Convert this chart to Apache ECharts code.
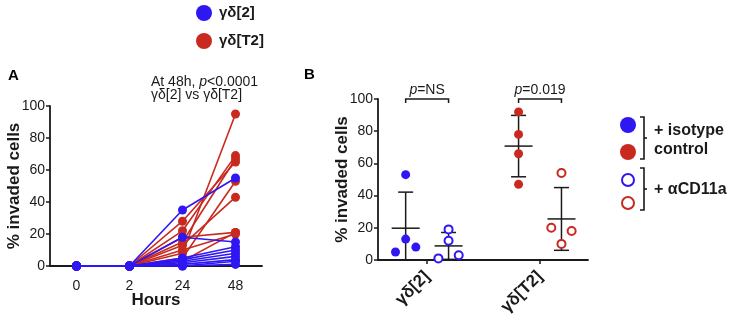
<!DOCTYPE html>
<html><head><meta charset="utf-8">
<script src="https://cdn.jsdelivr.net/npm/echarts@6/dist/echarts.min.js"></script>
<style>html,body{margin:0;background:#fff}#c{width:736px;height:321px}</style>
</head><body><div id="c"></div>
<script>
// ---------- Panel A data ----------
const hours = ['0', '2', '24', '48'];
const redT2Lines = [
  [0, 0, 8, 95], [0, 0, 28, 65], [0, 0, 22, 69], [0, 0, 15, 67], [0, 0, 5, 53],
  [0, 0, 13, 43], [0, 0, 18, 21], [0, 0, 10, 20], [0, 0, 3, 21]
];
const blue2Lines = [
  [0, 0, 35, 55], [0, 0, 18, 15], [0, 0, 5, 12], [0, 0, 4, 10], [0, 0, 3, 8],
  [0, 0, 2, 6], [0, 0, 1, 4], [0, 0, 0, 3], [0, 0, 0, 1]
];
// ---------- Panel B data ----------
const groupsB = ['γδ[2]', 'γδ[T2]'];
const g2Isotype = [5, 53, 13, 8];
const g2Cd11a = [1, 19, 12, 3];
const gT2Isotype = [92, 78, 66, 47];
const gT2Cd11a = [20, 54, 10, 18];
const jitterSpread = [-1, 0, 0, 1];
const jitterNone = [0, 0, 0, 0];
const yTicks = [0, 20, 40, 60, 80, 100];

const BLUE = '#2F17F4', RED = '#C92A20', INK = '#1a1a1a';
const FONT = 'Liberation Sans, Arial, sans-serif';

function meanSd(a) {
  const m = a.reduce((s, v) => s + v, 0) / a.length;
  const sd = Math.sqrt(a.reduce((s, v) => s + (v - m) * (v - m), 0) / (a.length - 1));
  return [m, m - sd, m + sd];
}
const groupCenter = [1, 3];
const sub = 0.38, jit = 0.18;
function pts(vals, jitter, center) {
  return vals.map((v, i) => [center + jitter[i] * jit, v]);
}
const sets = [
  { vals: g2Isotype, jitter: jitterSpread, c: groupCenter[0] - sub, color: BLUE, open: false },
  { vals: g2Cd11a, jitter: jitterSpread, c: groupCenter[0] + sub, color: BLUE, open: true },
  { vals: gT2Isotype, jitter: jitterNone, c: groupCenter[1] - sub, color: RED, open: false },
  { vals: gT2Cd11a, jitter: jitterSpread, c: groupCenter[1] + sub, color: RED, open: true }
];
const errData = sets.map(s => [s.c].concat(meanSd(s.vals)));
const pLabels = ['NS', '0.019'];
const bracketData = groupCenter.map((c, i) => [c - sub, c + sub, 100, i]);

const series = [];
redT2Lines.forEach(d => series.push({
  type: 'line', xAxisIndex: 0, yAxisIndex: 0, data: d, symbol: 'circle', symbolSize: 9,
  lineStyle: { color: RED, width: 1.6 }, itemStyle: { color: RED, opacity: 1 }, z: 2, silent: true
}));
blue2Lines.forEach(d => series.push({
  type: 'line', xAxisIndex: 0, yAxisIndex: 0, data: d, symbol: 'circle', symbolSize: 9,
  lineStyle: { color: BLUE, width: 1.6 }, itemStyle: { color: BLUE, opacity: 1 }, z: 3, silent: true
}));
series.push({
  type: 'custom', xAxisIndex: 1, yAxisIndex: 1, data: errData, z: 2, silent: true,
  renderItem(params, api) {
    const x = api.value(0), m = api.value(1), lo = Math.max(0, api.value(2)), hi = api.value(3);
    const pm = api.coord([x, m]), pl = api.coord([x, lo]), ph = api.coord([x, hi]);
    const st = { stroke: INK, lineWidth: 1.5 };
    return { type: 'group', children: [
      { type: 'line', shape: { x1: pm[0] - 14, y1: pm[1], x2: pm[0] + 14, y2: pm[1] }, style: st },
      { type: 'line', shape: { x1: pl[0], y1: pl[1], x2: ph[0], y2: ph[1] }, style: st },
      { type: 'line', shape: { x1: ph[0] - 7.5, y1: ph[1], x2: ph[0] + 7.5, y2: ph[1] }, style: st },
      { type: 'line', shape: { x1: pl[0] - 7.5, y1: pl[1], x2: pl[0] + 7.5, y2: pl[1] }, style: st }
    ] };
  }
});
sets.forEach(s => series.push({
  type: 'scatter', xAxisIndex: 1, yAxisIndex: 1, data: pts(s.vals, s.jitter, s.c),
  symbol: 'circle', symbolSize: s.open ? 8 : 9,
  itemStyle: s.open ? { color: '#fff', borderColor: s.color, borderWidth: 2, opacity: 1 } : { color: s.color, opacity: 1 },
  z: 3, silent: true
}));
series.push({
  type: 'custom', xAxisIndex: 1, yAxisIndex: 1, data: bracketData, z: 4, silent: true, clip: false,
  renderItem(params, api) {
    const a = api.coord([api.value(0), api.value(2)]), b = api.coord([api.value(1), api.value(2)]);
    const st = { stroke: INK, lineWidth: 1.5, fill: null };
    return { type: 'group', children: [
      { type: 'polyline', shape: { points: [[a[0], a[1] + 4], [a[0], a[1]], [b[0], b[1]], [b[0], b[1] + 4]] }, style: st },
      { type: 'text', style: { text: '{i|p}=' + pLabels[api.value(3)], x: (a[0] + b[0]) / 2, y: a[1] - 2,
        align: 'center', verticalAlign: 'bottom', fill: INK, font: '14px ' + FONT,
        rich: { i: { fontStyle: 'italic', fontSize: 14, fontFamily: FONT, fill: INK } } } }
    ] };
  }
});

const axisLineStyle = { lineStyle: { color: INK, width: 1.8 } };
const option = {
  animation: false,
  textStyle: { fontFamily: FONT },
  grid: [
    { left: 50, top: 106, width: 212, height: 160, outerBoundsMode: 'none', containLabel: false },
    { left: 378, top: 99, width: 210, height: 161, outerBoundsMode: 'none', containLabel: false }
  ],
  xAxis: [
    { gridIndex: 0, type: 'category', data: hours, boundaryGap: true,
      axisLine: axisLineStyle, axisTick: { show: false },
      axisLabel: { color: INK, fontSize: 14, margin: 13, fontFamily: FONT },
      name: 'Hours', nameLocation: 'middle', nameGap: 26, nameMoveOverlap: false,
      nameTextStyle: { color: INK, fontSize: 17, fontWeight: 'bold', fontFamily: FONT } },
    { gridIndex: 1, type: 'value', min: 0.13, max: 3.85, splitLine: { show: false },
      axisLine: axisLineStyle,
      axisTick: { show: true, customValues: groupCenter, length: 4, inside: false, lineStyle: { color: INK, width: 1.5 } },
      axisLabel: { customValues: groupCenter, formatter: v => groupsB[groupCenter.indexOf(v)] || '',
        rotate: 45, color: INK, fontSize: 17, fontWeight: 'bold', margin: 14, fontFamily: FONT } }
  ],
  yAxis: [
    { gridIndex: 0, type: 'value', min: 0, max: 100, interval: 20, splitLine: { show: false },
      axisLine: { show: true, lineStyle: { color: INK, width: 1.8 } },
      axisTick: { show: true, length: 4, lineStyle: { color: INK, width: 1.5 } },
      axisLabel: { color: INK, fontSize: 14, margin: 5, fontFamily: FONT },
      name: '% invaded cells', nameLocation: 'middle', nameGap: 27, nameMoveOverlap: false,
      nameTextStyle: { color: INK, fontSize: 17, fontWeight: 'bold', fontFamily: FONT } },
    { gridIndex: 1, type: 'value', min: 0, max: 100, interval: 20, splitLine: { show: false },
      axisLine: { show: true, lineStyle: { color: INK, width: 1.8 } },
      axisTick: { show: true, length: 4, lineStyle: { color: INK, width: 1.5 } },
      axisLabel: { color: INK, fontSize: 14, margin: 5, fontFamily: FONT },
      name: '% invaded cells', nameLocation: 'middle', nameGap: 27, nameMoveOverlap: false,
      nameTextStyle: { color: INK, fontSize: 17, fontWeight: 'bold', fontFamily: FONT } }
  ],
  graphic: [
    { type: 'text', left: 8, top: 68, style: { text: 'A', font: 'bold 15px ' + FONT, fill: '#000' } },
    { type: 'text', left: 304, top: 67, style: { text: 'B', font: 'bold 15px ' + FONT, fill: '#000' } },
    { type: 'text', left: 151, top: 75, style: { text: 'At 48h, {i|p}<0.0001', font: '14px ' + FONT, fill: INK,
      rich: { i: { fontStyle: 'italic', fontSize: 14, fontFamily: FONT } } } },
    { type: 'text', left: 151, top: 88, style: { text: 'γδ[2] vs γδ[T2]', font: '14px ' + FONT, fill: INK } },
    // top legend
    { type: 'circle', shape: { cx: 204, cy: 13, r: 8 }, style: { fill: BLUE } },
    { type: 'text', left: 219, top: 5, style: { text: 'γδ[2]', font: 'bold 15px ' + FONT, fill: INK } },
    { type: 'circle', shape: { cx: 204, cy: 41, r: 8 }, style: { fill: RED } },
    { type: 'text', left: 219, top: 33, style: { text: 'γδ[T2]', font: 'bold 15px ' + FONT, fill: INK } },
    // right legend
    { type: 'circle', shape: { cx: 628, cy: 125, r: 8 }, style: { fill: BLUE } },
    { type: 'circle', shape: { cx: 628, cy: 152, r: 8 }, style: { fill: RED } },
    { type: 'circle', shape: { cx: 628, cy: 180, r: 6 }, style: { fill: '#fff', stroke: BLUE, lineWidth: 2 } },
    { type: 'circle', shape: { cx: 628, cy: 203, r: 6 }, style: { fill: '#fff', stroke: RED, lineWidth: 2 } },
    { type: 'polyline', shape: { points: [[640, 117], [644, 117], [644, 159], [640, 159]] }, style: { stroke: INK, lineWidth: 1.6, fill: null } },
    { type: 'line', shape: { x1: 644, y1: 138, x2: 647, y2: 138 }, style: { stroke: INK, lineWidth: 1.6 } },
    { type: 'polyline', shape: { points: [[640, 168], [644, 168], [644, 210], [640, 210]] }, style: { stroke: INK, lineWidth: 1.6, fill: null } },
    { type: 'line', shape: { x1: 644, y1: 189, x2: 647, y2: 189 }, style: { stroke: INK, lineWidth: 1.6 } },
    { type: 'text', left: 654, top: 123, style: { text: '+ isotype', font: 'bold 16px ' + FONT, fill: INK } },
    { type: 'text', left: 654, top: 142, style: { text: 'control', font: 'bold 16px ' + FONT, fill: INK } },
    { type: 'text', left: 654, top: 182, style: { text: '+ αCD11a', font: 'bold 16px ' + FONT, fill: INK } }
  ],
  series
};
const chart = echarts.init(document.getElementById('c'), null, { renderer: 'canvas' });
chart.setOption(option);
</script></body></html>
